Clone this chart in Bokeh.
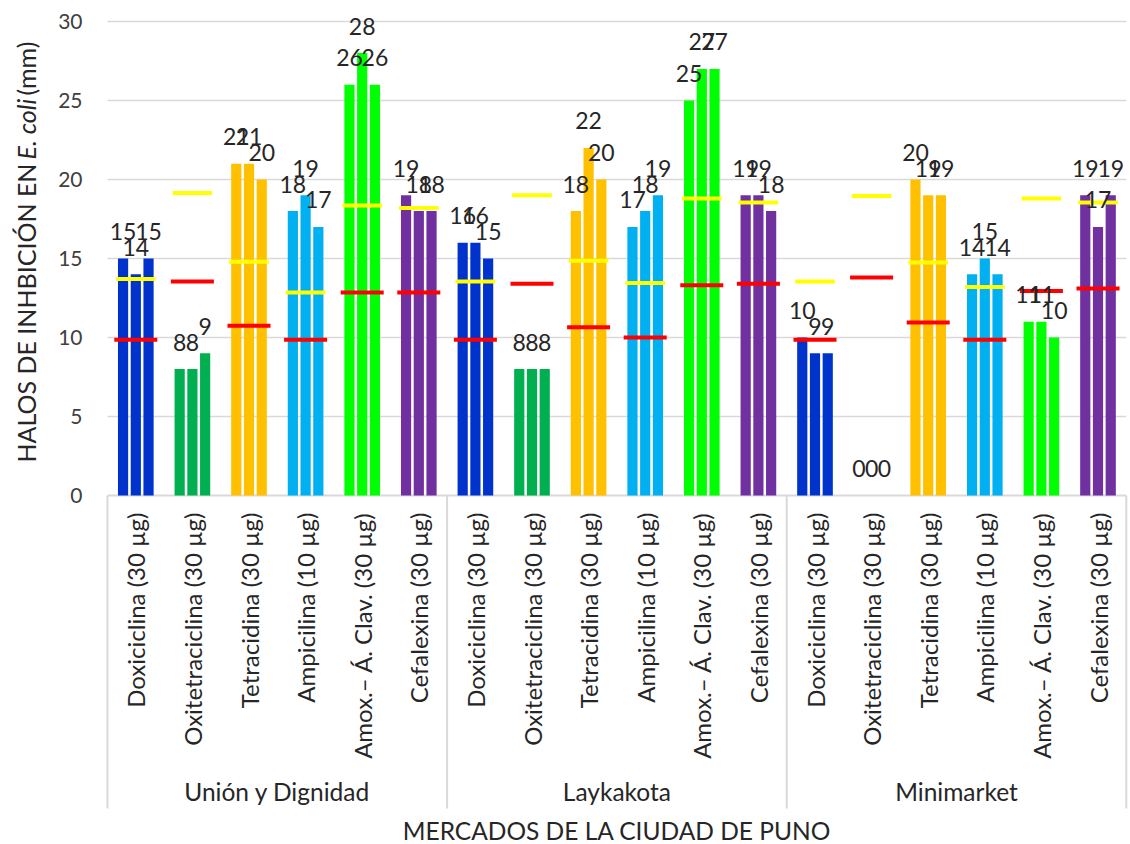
import numpy as np
from bokeh.plotting import figure
from bokeh.models import Range1d
from bokeh.core.properties import value
from bokeh.embed import file_html
from bokeh.resources import INLINE

# ---------------- data ----------------
markets = ["Unión y Dignidad", "Laykakota", "Minimarket"]
antibiotics = ["Doxiciclina (30 µg)", "Oxitetraciclina (30 µg)", "Tetracidina (30 µg)",
               "Ampicilina (10 µg)", "Amox.– Á. Clav. (30 µg)", "Cefalexina (30 µg)"]
bar_colors = ["#0033CC", "#00B050", "#FFC000", "#00B0F0", "#00FF00", "#7030A0"]

# three replicate halos (mm) per antibiotic, per market
union_reps = [[15, 14, 15], [8, 8, 9], [21, 21, 20], [18, 19, 17], [26, 28, 26], [19, 18, 18]]
laykakota_reps = [[16, 16, 15], [8, 8, 8], [18, 22, 20], [17, 18, 19], [25, 27, 27], [19, 19, 18]]
minimarket_reps = [[10, 9, 9], [0, 0, 0], [20, 19, 19], [14, 15, 14], [11, 11, 10], [19, 17, 19]]

# reference marks (yellow = upper, red = lower) per antibiotic, per market
union_yellow = [13.7, 19.15, 14.8, 12.85, 18.35, 18.2]
union_red = [9.85, 13.55, 10.75, 9.85, 12.85, 12.85]
laykakota_yellow = [13.55, 19.0, 14.85, 13.45, 18.8, 18.55]
laykakota_red = [9.85, 13.4, 10.65, 10.0, 13.3, 13.4]
minimarket_yellow = [13.55, 18.95, 14.75, 13.2, 18.8, 18.55]
minimarket_red = [9.85, 13.8, 10.95, 9.85, 12.95, 13.1]

y_ticks = [0, 5, 10, 15, 20, 25, 30]
y_title_parts = ["HALOS DE INHBICIÓN EN", "E. coli", "(mm)"]
x_title = "MERCADOS DE LA CIUDAD DE PUNO"

all_reps = [union_reps, laykakota_reps, minimarket_reps]
all_yellow = [union_yellow, laykakota_yellow, minimarket_yellow]
all_red = [union_red, laykakota_red, minimarket_red]

# ---------------- geometry ----------------
W, H = 1130, 844
left_px = 107          # pixel where the category axis starts
zero_px = 495          # pixel row of y = 0
px_x = 56.6            # pixels per category
px_y = 15.8            # pixels per mm

n_ab = len(antibiotics)
n_cat = len(markets) * n_ab
bar_step = 0.225
bar_w = 0.18
mark_half = 0.35

bx, btop, bcol, blab = [], [], [], []
cat_x, cat_lab = [], []
yx0, yx1, yy, rx0, rx1, ry = [], [], [], [], [], []
for m in range(len(markets)):
    for a in range(n_ab):
        c = m * n_ab + a + 0.5
        cat_x.append(c)
        cat_lab.append(antibiotics[a])
        for r, v in enumerate(all_reps[m][a]):
            bx.append(c + (r - 1) * bar_step)
            btop.append(v)
            bcol.append(bar_colors[a])
            blab.append(str(v))
        yx0.append(c - mark_half); yx1.append(c + mark_half); yy.append(all_yellow[m][a])
        rx0.append(c - mark_half - 0.03); rx1.append(c + mark_half + 0.03); ry.append(all_red[m][a])

x_lo = -left_px / px_x
x_hi = (W - left_px) / px_x
y_hi = zero_px / px_y
y_lo = -(H - zero_px) / px_y

def ypx(pix):
    """pixel row -> data y"""
    return (zero_px - pix) / px_y

def xpx(pix):
    return (pix - left_px) / px_x

p = figure(width=W, height=H, x_range=Range1d(x_lo, x_hi), y_range=Range1d(y_lo, y_hi),
           output_backend="svg", toolbar_location=None, x_axis_location=None, y_axis_location=None,
           min_border_left=0, min_border_right=0, min_border_top=0, min_border_bottom=0)
p.outline_line_color = None
p.background_fill_color = "white"
p.grid.visible = False

FONT = value("Lato")
TXT = "#262626"

# horizontal gridlines
grid_y = [t for t in y_ticks if t > 0]
p.segment(x0=[0] * len(grid_y), y0=grid_y, x1=[n_cat] * len(grid_y), y1=grid_y,
          line_color="#D9D9D9", line_width=1.5)

# y tick labels
p.text(x=[xpx(82)] * len(y_ticks), y=y_ticks, text=[str(t) for t in y_ticks],
       text_align="right", text_baseline="middle", text_font=FONT, text_font_size="21px",
       text_color="#404040")

# category axis line and separators
sep_x = [0, n_ab, 2 * n_ab, n_cat]
p.segment(x0=[0], y0=[0], x1=[n_cat], y1=[0], line_color="#D9D9D9", line_width=2)
p.segment(x0=sep_x, y0=[0] * 4, x1=sep_x, y1=[ypx(808)] * 4, line_color="#D9D9D9", line_width=2)

# bars
p.vbar(x=bx, top=btop, bottom=0, width=bar_w, fill_color=bcol, line_color=None)

# reference marks
p.segment(x0=yx0, y0=yy, x1=yx1, y1=yy, line_color="#FFFF00", line_width=4)
p.segment(x0=rx0, y0=ry, x1=rx1, y1=ry, line_color="#FF0000", line_width=4)

# data labels
p.text(x=bx, y=btop, text=blab, y_offset=-27, text_align="center", text_baseline="middle",
       text_font=FONT, text_font_size="23px", text_color=TXT)

# category labels (rotated)
p.text(x=cat_x, y=[ypx(512)] * n_cat, text=cat_lab, angle=np.pi / 2, text_align="right",
       text_baseline="middle", text_font=FONT, text_font_size="24px", text_color=TXT)

# market group labels
p.text(x=[n_ab * (i + 0.5) for i in range(len(markets))], y=[ypx(791)] * len(markets), text=markets,
       text_align="center", text_baseline="middle", text_font=FONT,
       text_font_size="24.5px", text_color=TXT)

# x title
p.text(x=[n_cat / 2], y=[ypx(830)], text=[x_title], text_align="center", text_baseline="middle",
       text_font=FONT, text_font_size="24.5px", text_color=TXT)

# y title (mixed styles, rotated, reading upward)
fs = "25px"
p.text(x=[xpx(25)], y=[ypx(462)], text=[y_title_parts[0]], angle=np.pi / 2, text_align="left",
       text_baseline="middle", text_font=FONT, text_font_size=fs, text_color=TXT)
p.text(x=[xpx(25)], y=[ypx(159)], text=[y_title_parts[1]], angle=np.pi / 2, text_align="left",
       text_baseline="middle", text_font=FONT, text_font_size=fs, text_font_style=value("italic"),
       text_color=TXT)
p.text(x=[xpx(25)], y=[ypx(95)], text=[y_title_parts[2]], angle=np.pi / 2, text_align="left",
       text_baseline="middle", text_font=FONT, text_font_size=fs, text_color=TXT)

open("out.html", "w").write(file_html(p, INLINE))
